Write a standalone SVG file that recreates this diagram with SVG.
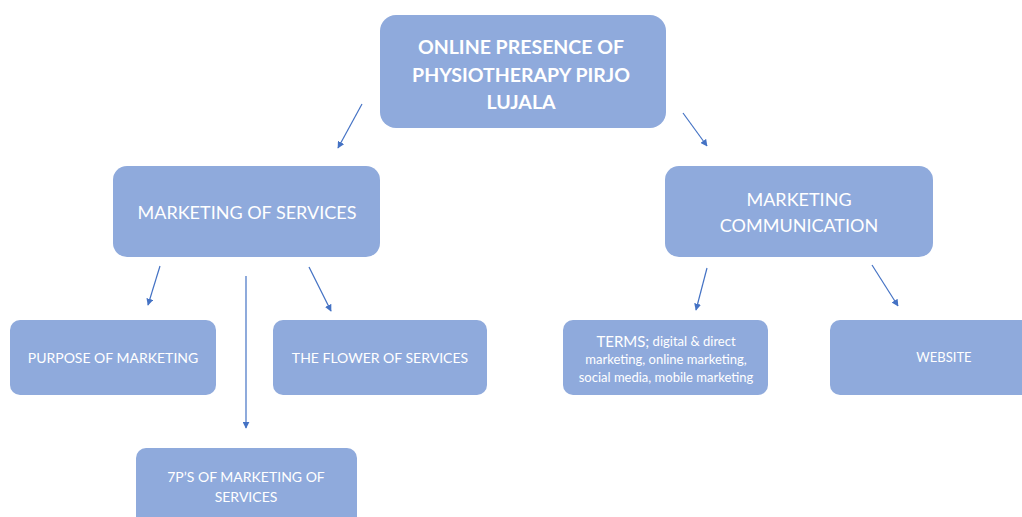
<svg xmlns="http://www.w3.org/2000/svg" width="1022" height="517" viewBox="0 0 1022 517">
<defs>
<marker id="ah" viewBox="0 0 10 10" refX="9" refY="5" markerWidth="7" markerHeight="7" markerUnits="userSpaceOnUse" orient="auto">
<path d="M0,0 L10,5 L0,10 z" fill="#4472C4"/>
</marker>
<style>
.box{fill:#8FAADC;}
.t{fill:#ffffff;font-family:Lato,"Open Sans","Liberation Sans",sans-serif;text-anchor:middle;dominant-baseline:central;}
.b{font-weight:bold;font-size:19.5px;}
.m{font-size:18px;}
.s{font-size:14px;}
.xs{font-size:13px;}
.c{stroke:#4472C4;stroke-width:1.2;fill:none;marker-end:url(#ah);}
</style>
</defs>
<rect width="1022" height="517" fill="#ffffff"/>
<g id="connectors">
<line class="c" x1="362" y1="104" x2="338" y2="148"/>
<line class="c" x1="683" y1="113" x2="707" y2="146"/>
<line class="c" x1="160" y1="266" x2="148" y2="305"/>
<line class="c" x1="246" y1="276" x2="246" y2="428"/>
<line class="c" x1="309" y1="267" x2="331" y2="311"/>
<line class="c" x1="707" y1="268" x2="696" y2="310"/>
<line class="c" x1="872" y1="265" x2="898" y2="306"/>
</g>
<g id="root">
<rect class="box" x="380" y="15" width="286" height="113" rx="16"/>
<text class="t b" x="521" y="46">ONLINE PRESENCE OF</text>
<text class="t b" x="521" y="74">PHYSIOTHERAPY PIRJO</text>
<text class="t b" x="521" y="101">LUJALA</text>
</g>
<g id="marketing-services">
<rect class="box" x="113" y="166" width="267" height="91" rx="14"/>
<text class="t m" x="247" y="212">MARKETING OF SERVICES</text>
</g>
<g id="marketing-communication">
<rect class="box" x="665" y="166" width="268" height="91" rx="14"/>
<text class="t m" x="799" y="199">MARKETING</text>
<text class="t m" x="799" y="225">COMMUNICATION</text>
</g>
<g id="purpose">
<rect class="box" x="10" y="320" width="206" height="75" rx="10"/>
<text class="t s" x="113" y="357">PURPOSE OF MARKETING</text>
</g>
<g id="flower">
<rect class="box" x="273" y="320" width="214" height="75" rx="10"/>
<text class="t s" x="380" y="357">THE FLOWER OF SERVICES</text>
</g>
<g id="sevenp">
<rect class="box" x="136" y="448" width="221" height="80" rx="10"/>
<text class="t s" x="246" y="476">7P’S OF MARKETING OF</text>
<text class="t s" x="246" y="496">SERVICES</text>
</g>
<g id="terms">
<rect class="box" x="563" y="320" width="205" height="75" rx="10"/>
<text class="t xs" x="666" y="341"><tspan font-size="15px">TERMS;</tspan> digital &amp; direct</text>
<text class="t xs" x="666" y="359">marketing, online marketing,</text>
<text class="t xs" x="666" y="377">social media, mobile marketing</text>
</g>
<g id="website">
<rect class="box" x="830" y="320" width="205" height="75" rx="10"/>
<text class="t xs" x="944" y="357">WEBSITE</text>
</g>
</svg>
